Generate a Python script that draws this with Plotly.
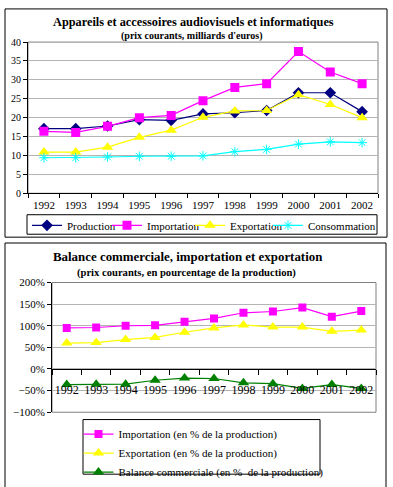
import plotly.graph_objects as go

W, H = 393, 487

years = ["1992", "1993", "1994", "1995", "1996", "1997", "1998", "1999", "2000", "2001", "2002"]

production = [17.1, 17.1, 17.8, 19.5, 19.3, 21.0, 21.3, 21.9, 26.6, 26.6, 21.6]
importation = [16.4, 16.1, 17.7, 20.0, 20.6, 24.5, 28.0, 29.0, 37.5, 32.1, 29.0]
exportation = [10.9, 10.9, 12.2, 14.8, 16.7, 20.1, 21.8, 21.9, 26.1, 23.5, 20.0]
consommation = [9.4, 9.4, 9.6, 9.8, 9.8, 9.9, 11.0, 11.6, 13.0, 13.6, 13.4]

imp_pct = [95, 96, 100, 101, 109, 117, 130, 133, 142, 121, 134]
exp_pct = [60, 61, 68, 73, 85, 95, 102, 97, 97, 87, 90]
bal_pct = [-36, -35, -35, -26, -21, -22, -32, -34, -45, -36, -45]

title1 = "Appareils et accessoires audiovisuels et informatiques"
sub1 = "(prix courants, milliards d'euros)"
title2 = "Balance commerciale, importation et exportation"
sub2 = "(prix courants, en pourcentage de la production)"

FONT = "Times New Roman, Liberation Serif, serif"


def px_x(x):
    return x / W


def px_y(y):
    return 1 - y / H


# plot areas in pixels
P1 = dict(l=28, r=378, t=37, b=192)
P2 = dict(l=52, r=376, t=283.5, b=416.5)

fig = go.Figure()

line_w = 1.2
fig.add_trace(go.Scatter(x=years, y=production, name="Production", mode="lines+markers",
                         line=dict(color="#000080", width=line_w),
                         marker=dict(symbol="diamond", size=9, color="#000080"),
                         xaxis="x", yaxis="y", legend="legend"))
fig.add_trace(go.Scatter(x=years, y=importation, name="Importation", mode="lines+markers",
                         line=dict(color="#FF00FF", width=line_w),
                         marker=dict(symbol="square", size=9, color="#FF00FF"),
                         xaxis="x", yaxis="y", legend="legend3"))
fig.add_trace(go.Scatter(x=years, y=exportation, name="Exportation", mode="lines+markers",
                         line=dict(color="#FFFF00", width=line_w),
                         marker=dict(symbol="triangle-up", size=10, color="#FFFF00"),
                         xaxis="x", yaxis="y", legend="legend4"))
fig.add_trace(go.Scatter(x=years, y=consommation, name="Consommation", mode="lines+markers",
                         line=dict(color="#00FFFF", width=line_w),
                         marker=dict(symbol="asterisk-open", size=8, color="#00FFFF",
                                     line=dict(color="#00FFFF", width=1)),
                         xaxis="x", yaxis="y", legend="legend5"))

fig.add_trace(go.Scatter(x=years, y=imp_pct, name="Importation (en % de la production)",
                         mode="lines+markers",
                         line=dict(color="#FF00FF", width=line_w),
                         marker=dict(symbol="square", size=8, color="#FF00FF"),
                         xaxis="x2", yaxis="y2", legend="legend2"))
fig.add_trace(go.Scatter(x=years, y=exp_pct, name="Exportation (en % de la production)",
                         mode="lines+markers",
                         line=dict(color="#FFFF00", width=line_w),
                         marker=dict(symbol="triangle-up", size=10, color="#FFFF00"),
                         xaxis="x2", yaxis="y2", legend="legend2"))
fig.add_trace(go.Scatter(x=years, y=bal_pct, name="Balance commerciale (en %  de la production)",
                         mode="lines+markers",
                         line=dict(color="#008000", width=line_w),
                         marker=dict(symbol="triangle-up", size=10, color="#008000"),
                         xaxis="x2", yaxis="y2", legend="legend2"))

tickfont = dict(family=FONT, size=10, color="black")

y2_lo, y2_hi = -100, 200
dom2 = [px_y(P2["b"]), px_y(P2["t"])]
x2_pos = dom2[0] + (0 - y2_lo) / (y2_hi - y2_lo) * (dom2[1] - dom2[0])


def top_legend(xpx):
    return dict(orientation="h", x=px_x(xpx), y=px_y(210), xanchor="left", yanchor="top",
                font=dict(family=FONT, size=11, color="black"), bgcolor="rgba(0,0,0,0)",
                borderwidth=0, itemwidth=30)


fig.update_layout(
    width=W, height=H,
    margin=dict(l=0, r=0, t=0, b=0),
    paper_bgcolor="white", plot_bgcolor="white",
    font=dict(family=FONT, size=10, color="black"),
    xaxis=dict(domain=[px_x(P1["l"]), px_x(P1["r"])], anchor="y", type="category",
               range=[-0.5, 10.5], tickson="boundaries", ticks="outside", ticklen=4,
               tickcolor="black", showline=True, linecolor="black", linewidth=1,
               showgrid=False, tickfont=dict(family=FONT, size=11, color="black"),
               tickangle=0, ticklabelstandoff=2),
    yaxis=dict(domain=[px_y(P1["b"]), px_y(P1["t"])], anchor="x", range=[0, 40], dtick=5,
               ticks="outside", ticklen=4, tickcolor="black", showline=True,
               linecolor="black", linewidth=1, showgrid=True, gridcolor="#b4b4b4",
               gridwidth=1, zeroline=False, tickfont=tickfont),
    xaxis2=dict(domain=[px_x(P2["l"]), px_x(P2["r"])], anchor="free", position=x2_pos,
                type="category", range=[-0.5, 10.5], tickson="boundaries", ticks="outside",
                ticklen=5, tickcolor="black", showline=True, linecolor="black", linewidth=1,
                showgrid=False, tickfont=dict(family=FONT, size=12, color="black"),
                tickangle=0, ticklabelstandoff=10),
    yaxis2=dict(domain=dom2, anchor="x2", range=[y2_lo, y2_hi], dtick=50, ticksuffix="%",
                ticks="outside", ticklen=4, tickcolor="black", showline=True,
                linecolor="black", linewidth=1, showgrid=True, gridcolor="#b4b4b4",
                zeroline=False, tickfont=dict(family=FONT, size=11, color="black")),
    legend=top_legend(27),
    legend3=top_legend(107),
    legend4=top_legend(190),
    legend5=top_legend(268),
    legend2=dict(orientation="v", x=px_x(78.5), y=px_y(424), xanchor="left", yanchor="top",
                 font=dict(family=FONT, size=11, color="black"), bgcolor="rgba(0,0,0,0)",
                 borderwidth=0, tracegroupgap=0),
    showlegend=True,
)

shapes = []
# outer chart boxes
shapes.append(dict(type="rect", xref="paper", yref="paper", x0=px_x(5), x1=px_x(387),
                   y0=px_y(237), y1=px_y(3), line=dict(color="black", width=1), layer="below"))
shapes.append(dict(type="rect", xref="paper", yref="paper", x0=px_x(5), x1=px_x(386),
                   y0=px_y(520), y1=px_y(243), line=dict(color="black", width=1), layer="below"))
# plot area borders (grey)
for P in (P1, P2):
    shapes.append(dict(type="rect", xref="paper", yref="paper", x0=px_x(P["l"]), x1=px_x(P["r"]),
                       y0=px_y(P["b"]), y1=px_y(P["t"]), line=dict(color="#808080", width=1),
                       layer="below"))
# legend boxes
shapes.append(dict(type="rect", xref="paper", yref="paper", x0=px_x(27), x1=px_x(377),
                   y0=px_y(234), y1=px_y(214), line=dict(color="black", width=1), layer="below"))
shapes.append(dict(type="rect", xref="paper", yref="paper", x0=px_x(83), x1=px_x(320),
                   y0=px_y(480), y1=px_y(424), line=dict(color="black", width=1), layer="below"))
fig.update_layout(shapes=shapes)

annotations = [
    dict(text="<b>" + title1 + "</b>", x=px_x(193), y=px_y(16), xref="paper", yref="paper",
         showarrow=False, font=dict(family=FONT, size=12.3, color="black"),
         xanchor="center", yanchor="middle"),
    dict(text="<b>" + sub1 + "</b>", x=px_x(191), y=px_y(31), xref="paper", yref="paper",
         showarrow=False, font=dict(family=FONT, size=10, color="black"),
         xanchor="center", yanchor="middle"),
    dict(text="<b>" + title2 + "</b>", x=px_x(187), y=px_y(257), xref="paper", yref="paper",
         showarrow=False, font=dict(family=FONT, size=12.9, color="black"),
         xanchor="center", yanchor="middle"),
    dict(text="<b>" + sub2 + "</b>", x=px_x(186), y=px_y(274), xref="paper", yref="paper",
         showarrow=False, font=dict(family=FONT, size=10.6, color="black"),
         xanchor="center", yanchor="middle"),
]
fig.update_layout(annotations=annotations)

fig.write_html("out.html", post_script="document.body.style.margin='0';",
               config={"displayModeBar": False})
